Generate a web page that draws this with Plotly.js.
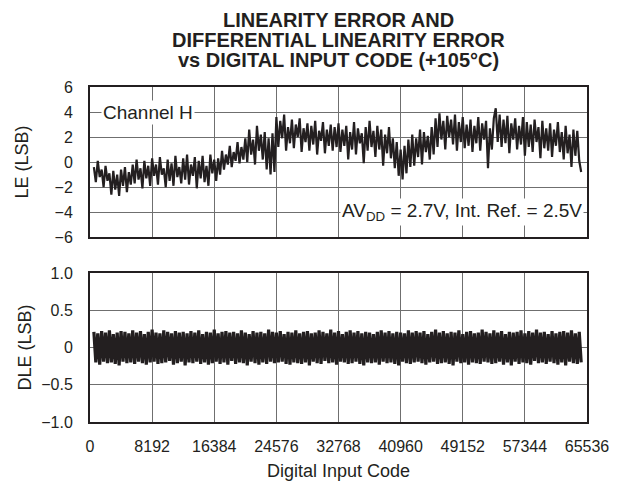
<!DOCTYPE html>
<html>
<head>
<meta charset="utf-8">
<script src="https://cdn.plot.ly/plotly-3.0.1.min.js"></script>
<style>html,body{margin:0;padding:0;background:#fff;}#chart{width:623px;height:481px;}</style>
</head>
<body>
<div id="chart"></div>
<script>
// Digital input codes: first sampled code and spacing between samples
const codeStart = 512;
const codeStep = 256;

// Linearity error (LSB)
const leValues = [
  -0.4,-1.6,0.1,-1.2,-0.6,-2.0,-0.3,-1.5,-0.9,-2.6,-0.7,-2.2,-1.0,-2.7,-0.6,-1.9,
  -0.4,-2.4,-0.8,-1.8,-0.2,-1.7,0.2,-1.4,-0.5,-2.1,0.1,-1.3,-0.3,-1.9,0.3,-1.1,
  -0.2,-1.8,0.4,-1.0,-0.5,-2.0,0.2,-1.5,-0.1,-1.9,0.5,-1.2,-0.4,-1.7,0.3,-1.4,
  0.6,-1.8,-0.2,-1.1,0.4,-2.1,0.1,-1.3,0.5,-1.6,-0.3,-1.9,0.6,-0.9,0.2,-1.5,
  0.3,-1.0,0.9,-0.6,0.6,-0.2,1.3,-0.4,0.8,0.1,1.6,-0.1,1.2,0.2,1.9,
  0.0,2.6,0.6,1.8,-0.2,2.9,0.9,2.2,0.2,2.4,-0.6,1.9,-1.0,2.3,-0.8,
  3.6,1.2,3.3,1.9,3.8,0.9,2.8,1.5,3.4,1.1,3.0,2.0,3.5,0.8,2.7,1.6,
  3.1,0.9,2.9,1.4,3.3,0.6,2.5,1.7,3.2,0.7,2.6,1.3,3.0,0.9,2.8,1.2,
  3.1,0.8,2.6,1.3,2.9,0.2,2.4,1.0,3.2,0.6,2.7,1.5,2.3,-0.1,2.8,0.9,
  3.3,1.2,2.5,0.4,2.9,1.0,2.6,-0.3,2.2,0.7,2.8,0.3,1.9,
  -0.5,1.6,-1.1,1.0,-1.4,1.3,-0.9,1.8,
  -0.4,2.2,-0.3,1.9,0.4,2.6,-0.2,2.4,0.8,2.1,0.2,2.8,0.6,
  3.5,1.2,3.9,1.8,3.3,1.0,3.7,2.0,3.4,1.4,3.8,0.9,3.2,1.6,3.6,1.1,3.0,
  1.3,3.4,0.8,2.9,1.5,3.6,0.9,3.1,1.8,3.3,-0.5,2.7,1.0,3.5,4.3,1.6,3.8,1.2,
  3.4,1.5,3.7,0.7,3.1,1.8,3.5,1.0,2.9,1.4,3.6,0.5,3.2,1.2,3.0,0.8,
  3.4,1.6,2.8,0.3,3.3,1.1,2.7,0.9,3.1,0.4,2.6,1.3,3.2,0.8,
  2.4,0.2,2.9,0.7,2.2,-0.4,2.6,0.5,2.5,0.1,-0.8
];

// Differential linearity error (LSB)
const dleValues = [
  0.21,-0.20,0.19,-0.23,0.22,-0.19,0.20,-0.21,0.23,-0.20,0.18,-0.22,
  0.20,-0.24,0.22,-0.19,0.21,-0.21,0.19,-0.20,0.23,-0.22,0.20,-0.19,
  0.22,-0.21,0.18,-0.23,0.21,-0.20,0.24,-0.19,0.20,-0.22,0.19,-0.21,
  0.23,-0.20,0.21,-0.18,0.19,-0.23,0.22,-0.21,0.20,-0.19,0.21,-0.24,
  0.19,-0.20,0.22,-0.21,0.20,-0.19,0.23,-0.22,0.18,-0.20,0.21,-0.23,
  0.20,-0.21,0.24,-0.19,0.19,-0.22,0.21,-0.20,0.22,-0.23,0.20,-0.18,
  0.21,-0.22,0.19,-0.20,0.23,-0.21,0.20,-0.24,0.18,-0.19,0.22,-0.21,
  0.20,-0.23,0.21,-0.20,0.19,-0.22,0.24,-0.19,0.21,-0.21,0.20,-0.20,
  0.22,-0.19,0.18,-0.22,0.21,-0.23,0.20,-0.20,0.23,-0.21,0.19,-0.22,
  0.21,-0.20,0.22,-0.24,0.19,-0.19,0.20,-0.21,0.23,-0.22,0.21,-0.18,
  0.19,-0.21,0.24,-0.20,0.20,-0.23,0.22,-0.19,0.18,-0.20,0.21,-0.22,
  0.23,-0.21,0.20,-0.19,0.22,-0.22,0.19,-0.24,0.21,-0.20,0.20,-0.21,
  0.18,-0.20,0.21,-0.23,0.23,-0.19,0.20,-0.21,0.22,-0.20,0.19,-0.22,
  0.21,-0.24,0.20,-0.19,0.19,-0.21,0.23,-0.22,0.20,-0.20,0.22,-0.19,
  0.20,-0.21,0.22,-0.23,0.18,-0.20,0.21,-0.19,0.24,-0.22,0.20,-0.21,
  0.22,-0.20,0.19,-0.22,0.21,-0.24,0.20,-0.19,0.23,-0.21,0.18,-0.20,
  0.21,-0.23,0.22,-0.20,0.19,-0.21,0.20,-0.22,0.24,-0.19,0.21,-0.20,
  0.19,-0.22,0.23,-0.21,0.20,-0.19,0.22,-0.23,0.18,-0.20,0.21,-0.24,
  0.20,-0.19,0.21,-0.22,0.23,-0.20,0.19,-0.21,0.22,-0.23,0.20,-0.18,
  0.24,-0.21,0.20,-0.20,0.21,-0.22,0.18,-0.19,0.22,-0.21,0.19,-0.23,
  0.21,-0.20,0.22,-0.24,0.20,-0.19,0.23,-0.21,0.19,-0.22,0.21,-0.20
];

// Axis ticks
const xTickVals = [0, 8192, 16384, 24576, 32768, 40960, 49152, 57344, 65536];
const xTickText = ['0','8192','16384','24576','32768','40960','49152','57344','65536'];
const leTickVals = [-6, -4, -2, 0, 2, 4, 6];
const leTickText = ['\u22126','\u22124','\u22122','0','2','4','6'];
const dleTickVals = [-1, -0.5, 0, 0.5, 1];
const dleTickText = ['\u22121.0','\u22120.5','0','0.5','1.0'];

// Title lines
const titleLines = ['LINEARITY ERROR AND', 'DIFFERENTIAL LINEARITY ERROR', 'vs DIGITAL INPUT CODE (+105°C)'];

const leCodes = leValues.map((_, i) => codeStart + i * codeStep);
const dleCodes = dleValues.map((_, i) => codeStart + i * codeStep);

const ink = '#231f20';
const gridC = '#6f6f6f';
const fontFam = 'Liberation Sans, Arial, Helvetica, sans-serif';

const traces = [
  {x: leCodes, y: leValues, xaxis: 'x', yaxis: 'y', type: 'scatter', mode: 'lines',
   line: {color: ink, width: 2.2}, hoverinfo: 'skip'},
  {x: dleCodes, y: dleValues, xaxis: 'x2', yaxis: 'y2', type: 'scatter', mode: 'lines',
   line: {color: ink, width: 3.2}, hoverinfo: 'skip'}
];

const axisCommon = {
  showline: true, linecolor: ink, linewidth: 2, mirror: true,
  showgrid: true, gridcolor: gridC, gridwidth: 1,
  zeroline: false, ticks: '', fixedrange: true,
  tickfont: {family: fontFam, size: 16, color: ink}
};

const titleYs = [1.2, 1.139, 1.08];
const titleAnns = titleLines.map((t, i) => ({
  text: t, xref: 'paper', yref: 'paper', x: 0.5, y: titleYs[i],
  xanchor: 'center', yanchor: 'middle', showarrow: false,
  font: {family: fontFam, size: 20, weight: 'bold', color: ink}
}));

const layout = {
  width: 623, height: 481,
  margin: {l: 90, r: 36, t: 87, b: 59},
  paper_bgcolor: '#ffffff', plot_bgcolor: '#ffffff',
  showlegend: false,
  font: {family: fontFam, color: ink},
  xaxis: Object.assign({}, axisCommon, {
    domain: [0, 1], anchor: 'y', range: [0, 65536],
    tickvals: xTickVals, ticktext: xTickText, showticklabels: false
  }),
  xaxis2: Object.assign({}, axisCommon, {
    domain: [0, 1], anchor: 'y2', range: [0, 65536], matches: 'x',
    tickvals: xTickVals, ticktext: xTickText, ticklabelstandoff: 9,
    title: {text: 'Digital Input Code', font: {family: fontFam, size: 18, color: ink}, standoff: 11}
  }),
  yaxis: Object.assign({}, axisCommon, {
    domain: [0.552, 1], anchor: 'x', range: [-6, 6],
    tickvals: leTickVals, ticktext: leTickText, ticklabelstandoff: 12,
    title: {text: 'LE (LSB)', font: {family: fontFam, size: 18, color: ink}, standoff: 21}
  }),
  yaxis2: Object.assign({}, axisCommon, {
    domain: [0, 0.445], anchor: 'x2', range: [-1, 1],
    tickvals: dleTickVals, ticktext: dleTickText, ticklabelstandoff: 12,
    title: {text: 'DLE (LSB)', font: {family: fontFam, size: 18, color: ink}, standoff: 5}
  }),
  annotations: titleAnns.concat([
    {text: 'Channel H', xref: 'x', yref: 'y', x: 1500, y: 4, xanchor: 'left', yanchor: 'middle',
     showarrow: false, bgcolor: '#ffffff', borderpad: 1,
     font: {family: fontFam, size: 19, color: ink}},
    {text: 'AV<sub>DD</sub> = 2.7V, Int. Ref. = 2.5V', xref: 'x', yref: 'y', x: 65150, y: -4,
     xanchor: 'right', yanchor: 'middle', showarrow: false, bgcolor: '#ffffff', borderpad: 1,
     font: {family: fontFam, size: 19, color: ink}}
  ])
};

Plotly.newPlot('chart', traces, layout, {staticPlot: true, displayModeBar: false});
</script>
</body>
</html>
